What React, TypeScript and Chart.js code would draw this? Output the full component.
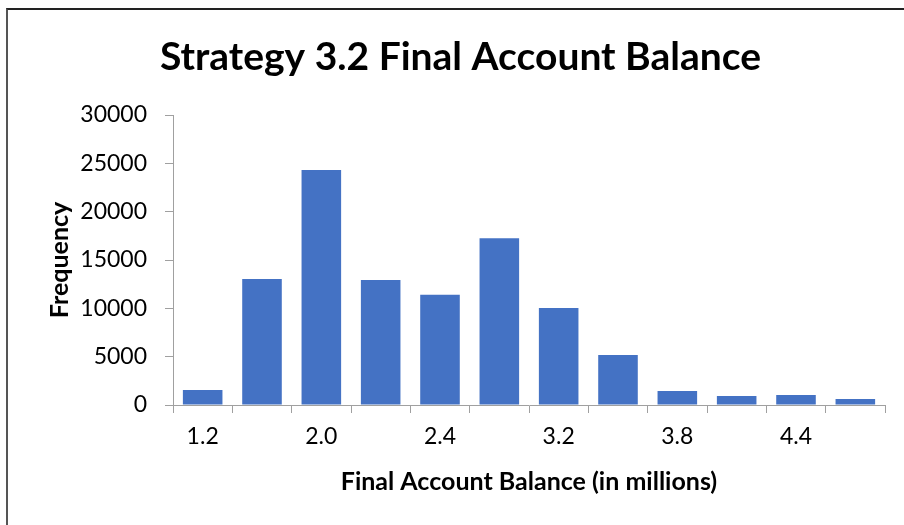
import React, { useEffect, useRef } from "react";
import { Chart, registerables } from "chart.js";

Chart.register(...registerables);

const categories = ["1.2", "", "2.0", "", "2.4", "", "3.2", "", "3.8", "", "4.4", ""];
const frequencies = [1550, 13030, 24300, 12930, 11400, 17250, 10030, 5170, 1450, 930, 1030, 620];
const yTicks = [0, 5000, 10000, 15000, 20000, 25000, 30000];

const chartTitle = "Strategy 3.2 Final Account Balance";
const xTitle = "Final Account Balance (in millions)";
const yTitle = "Frequency";

const FONT = "Lato, 'Open Sans', sans-serif";
const AXIS_GRAY = "#a0a0a0";

export default function App() {
  const canvasRef = useRef<HTMLCanvasElement | null>(null);

  useEffect(() => {
    const canvas = canvasRef.current;
    if (!canvas) return;
    const chart = new Chart(canvas, {
      type: "bar",
      data: {
        labels: categories,
        datasets: [
          {
            data: frequencies,
            backgroundColor: "#4472C4",
            borderWidth: 0,
            categoryPercentage: 1,
            barPercentage: 0.667,
          },
        ],
      },
      options: {
        responsive: false,
        animation: false,
        events: [],
        layout: { padding: { left: 36, right: 19, top: 0, bottom: 0 } },
        plugins: {
          legend: { display: false },
          tooltip: { enabled: false },
          title: {
            display: true,
            text: chartTitle,
            color: "#000",
            font: { family: FONT, size: 39, weight: "bold" },
            padding: { top: 34, bottom: 34.2 },
          },
        },
        scales: {
          x: {
            offset: true,
            grid: {
              offset: true,
              drawOnChartArea: false,
              drawTicks: true,
              tickLength: 8,
              color: AXIS_GRAY,
            },
            border: { display: true, color: AXIS_GRAY, width: 1 },
            ticks: {
              autoSkip: false,
              maxRotation: 0,
              color: "#000",
              padding: 10,
              font: { family: FONT, size: 23 },
            },
            title: {
              display: true,
              text: xTitle,
              color: "#000",
              font: { family: FONT, size: 25, weight: "bold" },
              padding: { top: 0, bottom: 28 },
            },
            afterFit: (axis: any) => {
              axis.height = 120;
            },
          },
          y: {
            min: 0,
            max: 30000,
            afterBuildTicks: (axis: any) => {
              axis.ticks = yTicks.map((v) => ({ value: v }));
            },
            grid: {
              drawOnChartArea: false,
              drawTicks: true,
              tickLength: 8,
              color: AXIS_GRAY,
            },
            border: { display: true, color: AXIS_GRAY, width: 1 },
            ticks: {
              color: "#000",
              padding: 18,
              font: { family: FONT, size: 23 },
              callback: (v: any) => String(v),
            },
            title: {
              display: true,
              text: yTitle,
              color: "#000",
              font: { family: FONT, size: 25, weight: "bold" },
              padding: { top: 9, bottom: 0 },
            },
            afterFit: (axis: any) => {
              axis.width = 137;
            },
          },
        },
      },
    });
    return () => chart.destroy();
  }, []);

  return (
    <div
      style={{
        position: "fixed",
        left: 0,
        top: 0,
        width: 904,
        height: 525,
        background: "#fff",
        overflow: "hidden",
      }}
    >
      <div
        style={{
          position: "absolute",
          left: 6,
          top: 8,
          width: 920,
          height: 540,
          borderLeft: "2px solid #555",
          borderTop: "2px solid #222",
        }}
      />
      <canvas
        ref={canvasRef}
        width={904}
        height={525}
        style={{ position: "absolute", left: 0, top: 0, display: "block" }}
      />
    </div>
  );
}
